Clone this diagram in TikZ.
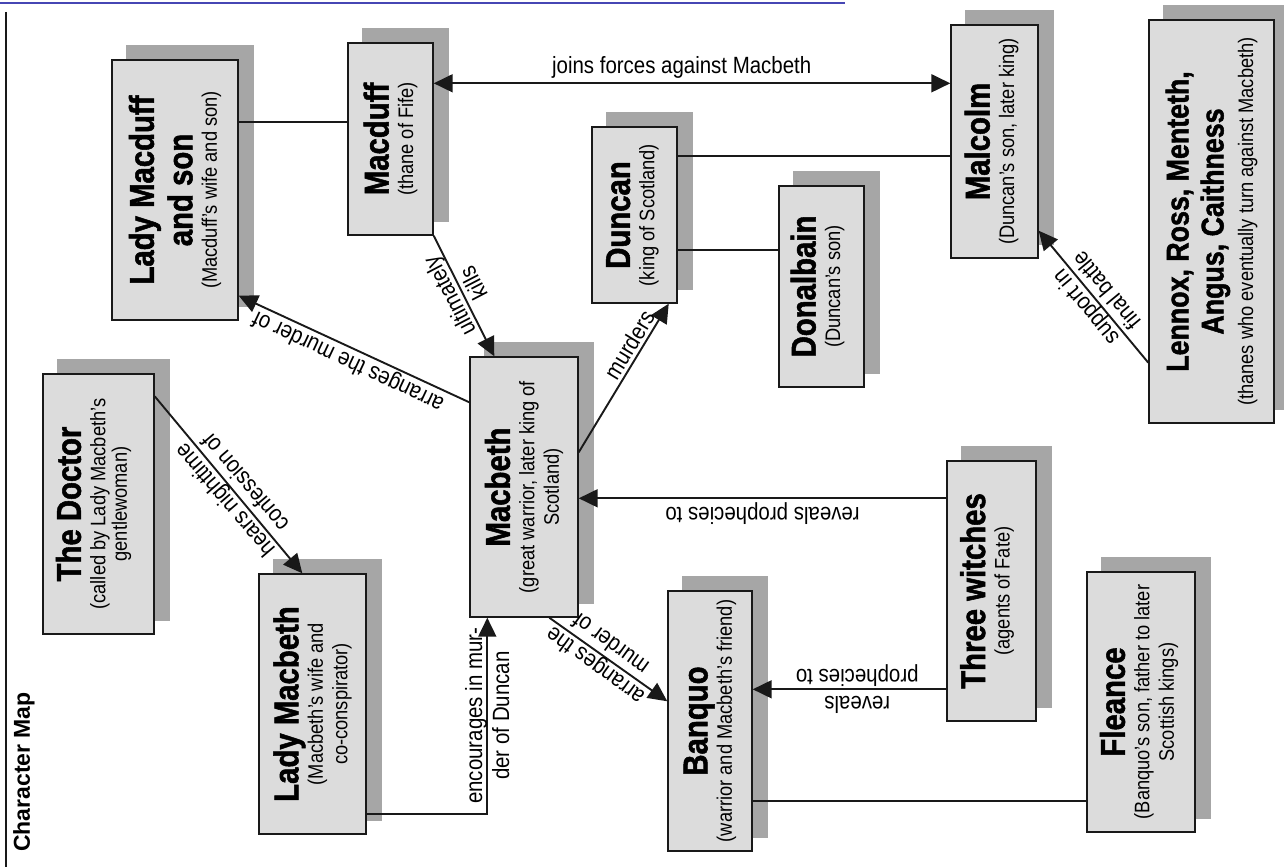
\documentclass[tikz,border=0pt]{standalone}
\usepackage{fontspec}
\usepackage{graphicx}
\usetikzlibrary{arrows.meta,backgrounds}
\setmainfont{Liberation Sans}
\newfontfamily\cond[FakeStretch=0.87]{Liberation Sans}
\newfontfamily\heavy[FakeStretch=0.85,FakeBold=1.5]{Liberation Sans Bold}

\definecolor{boxfill}{RGB}{220,220,220}
\definecolor{shadefill}{RGB}{166,166,166}
\definecolor{linkblue}{RGB}{70,70,180}
\definecolor{ink}{RGB}{25,25,25}

% character names and their descriptions
\newcommand\cname[1]{{\heavy\fontsize{34.5}{34.5}\selectfont #1}}
\newcommand\cnamesmall[1]{{\heavy\fontsize{31.5}{31.5}\selectfont #1}}
\newcommand\csub[1]{{\cond\fontsize{21}{21}\selectfont #1}}
\newcommand\rowgap[1]{\noalign{\kern#1}}
% centred rows with a fixed baseline distance, turned to read upwards
\newcommand\stack[1]{\rotatebox{90}{\vbox{\baselineskip=24.5pt\lineskiplimit=-\maxdimen\lineskip=0pt
  \halign{\hfil##\hfil\cr#1\crcr}}}}

\tikzset{
  charbox/.style={draw=ink, line width=1.4pt, fill=boxfill, inner sep=0pt},
  conn/.style={draw=ink, line width=1.9pt},
  lab/.style={font=\cond\fontsize{23.5}{27}\selectfont, inner sep=3pt, align=center},
  >={Triangle[length=19pt,width=18pt]}
}

\begin{document}
\begin{tikzpicture}[x=1pt,y=-1pt]
\useasboundingbox (0,0) rectangle (1284,867);

% character boxes
\node[charbox, minimum width=126pt, minimum height=260pt] (ladymacduff) at (175,190)
  {\stack{\cname{Lady Macduff}\cr\rowgap{14pt}\cname{and son}\cr\csub{(Macduff’s wife and son)}}};
\node[charbox, minimum width=85pt, minimum height=192pt] (macduff) at (390.5,139)
  {\stack{\cname{Macduff}\cr\csub{(thane of Fife)}}};
\node[charbox, minimum width=87pt, minimum height=233pt] (malcolm) at (994.5,141.5)
  {\stack{\cname{Malcolm}\cr\csub{(Duncan’s son, later king)}\cr\rowgap{6pt}}};
\node[charbox, minimum width=125pt, minimum height=403pt] (lennox) at (1211.5,221.5)
  {\stack{\cnamesmall{Lennox, Ross, Menteth,}\cr\rowgap{10.5pt}\cnamesmall{Angus, Caithness}\cr\rowgap{5pt}\csub{(thanes who eventually turn against Macbeth)}}};
\node[charbox, minimum width=85pt, minimum height=176pt] (duncan) at (634.5,215)
  {\stack{\cname{Duncan}\cr\csub{(king of Scotland)}\cr\rowgap{4pt}}};
\node[charbox, minimum width=85pt, minimum height=201pt] (donalbain) at (821.5,286.5)
  {\stack{\cname{Donalbain}\cr\csub{(Duncan’s son)}\cr\rowgap{8pt}}};
\node[charbox, minimum width=111pt, minimum height=260pt] (doctor) at (98.5,504)
  {\stack{\cname{The Doctor}\cr\csub{(called by Lady Macbeth’s}\cr\rowgap{-3pt}\csub{gentlewoman)}\cr\rowgap{10pt}}};
\node[charbox, minimum width=107pt, minimum height=260pt] (ladymacbeth) at (312.5,704)
  {\stack{\cname{Lady Macbeth}\cr\csub{(Macbeth’s wife and}\cr\csub{co-conspirator)}}};
\node[charbox, minimum width=108pt, minimum height=260pt] (macbeth) at (524,487)
  {\stack{\cname{Macbeth}\cr\csub{(great warrior, later king of}\cr\csub{Scotland)}}};
\node[charbox, minimum width=84pt, minimum height=260pt] (banquo) at (710,721)
  {\stack{\cname{Banquo}\cr\csub{(warrior and Macbeth’s friend)}}};
\node[charbox, minimum width=89pt, minimum height=260pt] (witches) at (991.5,591)
  {\stack{\cname{Three witches}\cr\csub{(agents of Fate)}\cr\rowgap{9pt}}};
\node[charbox, minimum width=108pt, minimum height=260pt] (fleance) at (1141,702)
  {\stack{\cname{Fleance}\cr\csub{(Banquo’s son, father to later}\cr\csub{Scottish kings)}\cr\rowgap{4pt}}};

% heading and page edges
\node[rotate=90, font=\bfseries\fontsize{23}{23}\selectfont, inner sep=0pt] (title) at (24,772) {Character Map};
\draw[ink, line width=1.6pt] (6,12) coordinate (edgetop) -- (6,867) coordinate (edgebottom);
\draw[linkblue, line width=1.5pt] (0,3) coordinate (linkstart) -- (845,3) coordinate (linkend);

% relationships
\draw[conn] ([yshift=-63pt]ladymacduff.north east) coordinate (lmdA) -- (lmdA -| macduff.west);
\draw[conn, <->] ([yshift=-41pt]macduff.north east) coordinate (mdA)
  -- node[lab, above=1pt, pos=0.48] {joins forces against Macbeth} (mdA -| malcolm.west);
\draw[conn] ([yshift=-30pt]duncan.north east) coordinate (dnA) -- (dnA -| malcolm.west);
\draw[conn] ([yshift=-124pt]duncan.north east) coordinate (dnB) -- (dnB -| donalbain.west);
\draw[conn, ->] (macduff.south east)
  -- node[lab, rotate=117.5, pos=0.45] {ultimately\\kills} ([xshift=25pt]macbeth.north west);
\draw[conn, ->] ([yshift=-96pt]macbeth.north east)
  -- node[lab, rotate=58.7, pos=0.68, anchor=south] {murders} ([xshift=-9pt]duncan.south east);
\draw[conn, ->] ([yshift=-46pt]macbeth.north west)
  -- node[lab, rotate=154.8, anchor=south, inner sep=1pt] {arranges the murder of} ([yshift=25pt]ladymacduff.south east);
\draw[conn, ->] ([yshift=-23pt]doctor.north east)
  -- node[lab, rotate=130.6, pos=0.54] {hears nighttime\\confession of} ([xshift=44pt]ladymacbeth.north west);
\draw[conn, ->] ([yshift=21pt]ladymacbeth.south east)
  -| node[lab, rotate=90, pos=0.75] {encourages in mur-\\der of Duncan} ([xshift=18pt]macbeth.south west);
\draw[conn, ->] ([yshift=-38pt]witches.north west) coordinate (wA)
  -- node[lab, rotate=180, anchor=south] {reveals prophecies to} (wA -| macbeth.east);
\draw[conn, ->] ([yshift=-229pt]witches.north west) coordinate (wB)
  -- node[lab, rotate=180, pos=0.46] {reveals\\prophecies to} (wB -| banquo.east);
\draw[conn] ([yshift=51pt]banquo.south east) coordinate (bA) -- (bA -| fleance.west);
\draw[conn, ->] ([xshift=80pt]macbeth.south west)
  -- node[lab, rotate=144.2, pos=0.45] {arranges the\\murder of} ([yshift=-111pt]banquo.north west);
\draw[conn, ->] ([yshift=61pt]lennox.south west)
  -- node[lab, rotate=129.5, pos=0.48] {support in\\final battle} ([yshift=28pt]malcolm.south east);

% page background and box shadows
\begin{scope}[on background layer]
  \fill[white] (0,0) rectangle (1284,867);
  \foreach \n in {ladymacduff,macduff,malcolm,lennox,duncan,donalbain,doctor,ladymacbeth,macbeth,banquo,witches,fleance}
    \fill[shadefill] ([xshift=15pt,yshift=14pt]\n.south west) rectangle ([xshift=15pt,yshift=14pt]\n.north east);
\end{scope}
\end{tikzpicture}
\end{document}
